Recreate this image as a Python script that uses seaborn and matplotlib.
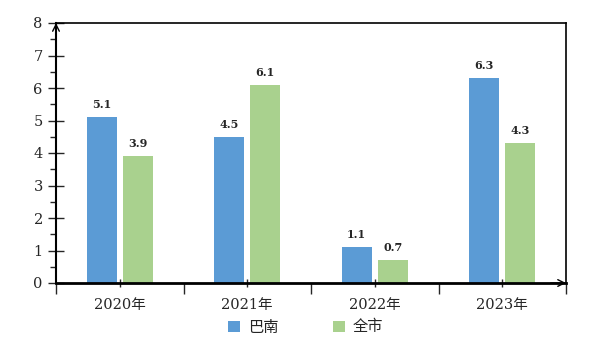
import matplotlib
matplotlib.use("Agg")
import matplotlib.pyplot as plt
import seaborn as sns
import pandas as pd
from matplotlib.ticker import MultipleLocator, FixedLocator
from matplotlib.patches import Patch

# Data
years = ["2020年", "2021年", "2022年", "2023年"]
banan = [5.1, 4.5, 1.1, 6.3]
city = [3.9, 6.1, 0.7, 4.3]
series_names = ["巴南", "全市"]
colors = ["#5B9BD5", "#A9D18E"]

df = pd.DataFrame({
    "year": years * 2,
    "value": banan + city,
    "series": [series_names[0]] * len(years) + [series_names[1]] * len(years),
})

sns.set_theme(style="white")
plt.rcParams["font.family"] = ["DejaVu Serif", "Noto Sans CJK SC"]

fig = plt.figure(figsize=(5.91, 3.48), dpi=100)
ax = fig.add_axes([56 / 591, 1 - 283 / 348, (566 - 56) / 591, (283 - 23) / 348])

sns.barplot(data=df, x="year", y="value", hue="series", palette=colors,
            width=0.565, gap=0.165, saturation=1, linewidth=0, edgecolor="none",
            ax=ax, legend=False)

ax.set_xlim(-0.5, 3.5)
ax.set_ylim(0, 8)
ax.set_xlabel("")
ax.set_ylabel("")

# value labels above each bar
for container in ax.containers:
    ax.bar_label(container, fmt="%.1f", padding=5, fontsize=8, fontweight="bold",
                 family="DejaVu Serif")

# y axis ticks
ax.yaxis.set_major_locator(MultipleLocator(1))
ax.yaxis.set_minor_locator(MultipleLocator(0.5))
ax.tick_params(axis="y", which="major", direction="inout", length=11, width=1,
               labelsize=10.5, pad=4, left=True)
ax.tick_params(axis="y", which="minor", direction="out", length=4, width=1, left=True)

# x axis: labels at group centres, boundary ticks between groups
ax.set_xticks(range(len(years)))
ax.set_xticklabels(years)
ax.xaxis.set_minor_locator(FixedLocator([-0.5, 0.5, 1.5, 2.5, 3.5]))
ax.tick_params(axis="x", which="major", direction="inout", length=6, width=1,
               labelsize=10.5, pad=8, bottom=True)
ax.tick_params(axis="x", which="minor", direction="out", length=8, width=1, bottom=True)

for side in ["top", "right", "left", "bottom"]:
    ax.spines[side].set_visible(True)
    ax.spines[side].set_color("black")
ax.spines["top"].set_linewidth(1.2)
ax.spines["right"].set_linewidth(1.2)
ax.spines["left"].set_linewidth(1.5)
ax.spines["bottom"].set_linewidth(2)
ax.spines["left"].set_zorder(5)
ax.spines["bottom"].set_zorder(5)

# axis arrows
ax.annotate("", xy=(0, 1.0), xytext=(0, 0.96), xycoords="axes fraction",
            arrowprops=dict(arrowstyle="->", color="black", lw=1, shrinkA=0, shrinkB=0))
ax.annotate("", xy=(1.0, 0), xytext=(0.97, 0), xycoords="axes fraction",
            arrowprops=dict(arrowstyle="->", color="black", lw=1, shrinkA=0, shrinkB=0))

# legend
handles = [Patch(facecolor=c, edgecolor="none") for c in colors]
fig.legend(handles, series_names, loc="center", bbox_to_anchor=(0.517, 1 - 327 / 348),
           ncol=2, frameon=False, fontsize=11, handlelength=0.75, handleheight=0.75,
           handletextpad=0.5, columnspacing=3.6,
           prop={"family": ["Noto Sans CJK SC"], "size": 11})

fig.savefig("out.png", dpi=100)
